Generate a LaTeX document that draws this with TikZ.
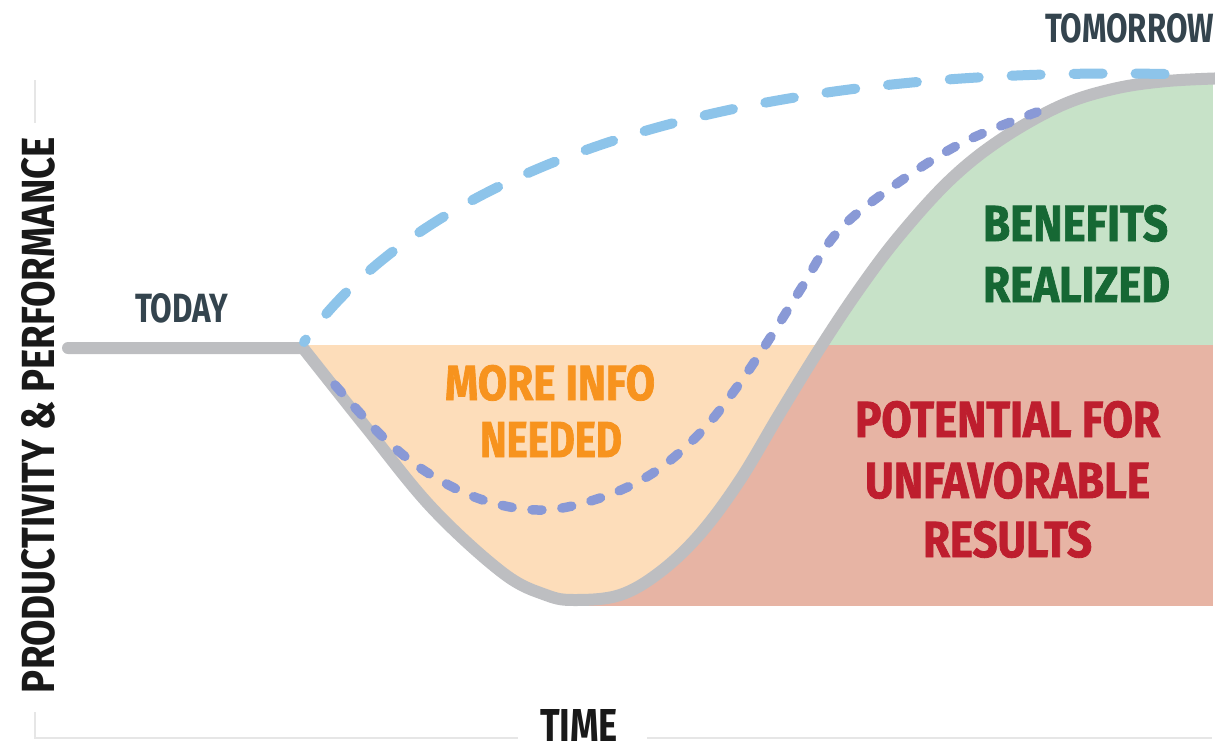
\documentclass[tikz,border=0pt]{standalone}
\usepackage{fontspec}
\usepackage{graphicx}
\newfontfamily\labelfont{Fira Sans}
\newfontfamily\heavyfont{Fira Sans}[FakeBold=1.6]
\newlength\px
\setlength\px{0.025cm}

\definecolor{curvegray}{RGB}{189,190,193}
\definecolor{lightblue}{RGB}{141,196,234}
\definecolor{lavender}{RGB}{137,153,214}
\definecolor{orangefill}{RGB}{253,221,186}
\definecolor{greenfill}{RGB}{199,226,200}
\definecolor{redfill}{RGB}{231,180,164}
\definecolor{orangetext}{RGB}{247,147,30}
\definecolor{greentext}{RGB}{22,104,52}
\definecolor{redtext}{RGB}{190,30,46}
\definecolor{slate}{RGB}{52,68,78}
\definecolor{ink}{RGB}{25,25,25}
\definecolor{axisgray}{RGB}{230,230,230}

\tikzset{
  axisline/.style={draw=axisgray, line width=1.5\px},
  mainline/.style={draw=curvegray, line width=12\px, line cap=round, line join=miter},
  bluedash/.style={draw=lightblue, line width=10\px, line cap=round,
    dash pattern=on 29\px off 33\px, dash phase=26\px},
  purpledot/.style={draw=lavender, line width=9.5\px, line cap=round,
    dash pattern=on 10\px off 20\px},
  lbl/.style={inner sep=0pt, outer sep=0pt, anchor=north west},
}

\begin{document}
\begin{tikzpicture}[x=0.025cm, y=-0.025cm]
\useasboundingbox (0,0) rectangle (1215,751);

% axes
\draw[axisline] (35,80) -- (35,123);
\draw[axisline] (35,712) -- (35,738) -- (518,738);
\draw[axisline] (647,738) -- (1212,738);

% coloured zones
\fill[redfill] (575,345) rectangle (1213,606);
\fill[greenfill] (760,60) rectangle (1213,345);
\begin{scope}
  \clip (0,0) -- (0,348) -- (303,348) -- plot[smooth, tension=0.6] coordinates {
    (303,348) (365,426) (432,508) (503,573) (546,595) (575,600) (620,595)
    (660,572) (700,534) (740,480) (780,413) (820,348) (860,288) (900,235)
    (950,180) (1000,140) (1060,106) (1113,89) (1167,81) (1230,78)}
    -- (1240,0) -- cycle;
  \fill[orangefill] (303,345) rectangle (1213,620);
  \fill[white] (303,0) rectangle (1213,345);
\end{scope}

% named points of the curves
\coordinate (today) at (68,348);
\coordinate (dipend) at (1037,112);
\coordinate (bluestart) at (304,342);
\coordinate (blueend) at (1165,74);

% main productivity curve
\draw[mainline] (today) -- plot[smooth, tension=0.6] coordinates {
    (303,348) (365,426) (432,508) (503,573) (546,595) (575,600) (620,595)
    (660,572) (700,534) (740,480) (780,413) (820,348) (860,288) (900,235)
    (950,180) (1000,140) (1060,106) (1113,89) (1167,81) (1230,78)};

% shallower dip
\draw[purpledot] plot[smooth, tension=0.6] coordinates {
    (335,385) (383,437) (428,473) (483,500) (542,510) (600,498) (653,473)
    (700,433) (737,387) (770,338) (802,287) (835,235) (881,195) (958,145)
    (dipend)};

% ideal path
\draw[bluedash] (bluestart) .. controls (420,180) and (700,65) .. (blueend);

% labels
\node[lbl, text=slate] (tomorrowlbl) at (1045,13)
  {\resizebox{169\px}{29\px}{\labelfont\bfseries TOMORROW}};
\node[lbl, text=slate] (todaylbl) at (135,293)
  {\resizebox{93\px}{29\px}{\labelfont\bfseries TODAY}};

\node[lbl, text=orangetext] (info1) at (445,365)
  {\resizebox{210\px}{35\px}{\heavyfont\bfseries MORE INFO}};
\node[lbl, text=orangetext] (info2) at (480,422)
  {\resizebox{142\px}{35\px}{\heavyfont\bfseries NEEDED}};

\node[lbl, text=greentext] (ben1) at (983,205)
  {\resizebox{185\px}{36\px}{\heavyfont\bfseries BENEFITS}};
\node[lbl, text=greentext] (ben2) at (983,267)
  {\resizebox{187\px}{35\px}{\heavyfont\bfseries REALIZED}};

\node[lbl, text=redtext] (risk1) at (855,401)
  {\resizebox{305\px}{36\px}{\heavyfont\bfseries POTENTIAL FOR}};
\node[lbl, text=redtext] (risk2) at (865,462)
  {\resizebox{285\px}{36\px}{\heavyfont\bfseries UNFAVORABLE}};
\node[lbl, text=redtext] (risk3) at (923,521)
  {\resizebox{169\px}{36\px}{\heavyfont\bfseries RESULTS}};

\node[lbl, text=ink] (timelbl) at (540,709)
  {\resizebox{78\px}{32\px}{\labelfont\bfseries TIME}};
\node[inner sep=0pt, rotate=90, text=ink] (ylbl) at (38.5,415)
  {\resizebox{556\px}{33\px}{\labelfont\bfseries PRODUCTIVITY \& PERFORMANCE}};
\end{tikzpicture}
\end{document}
